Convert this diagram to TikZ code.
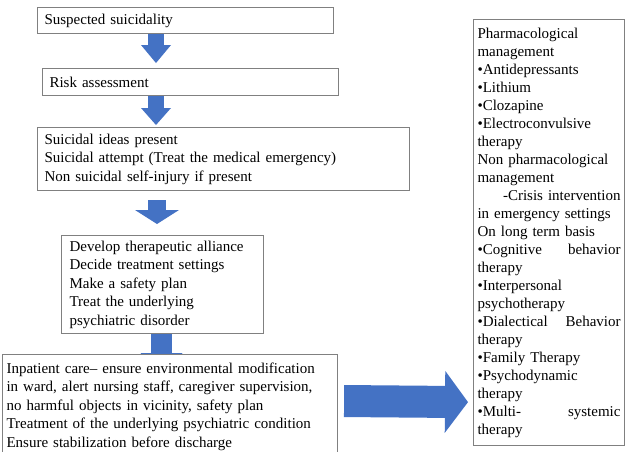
\documentclass[tikz,border=0pt]{standalone}
\usepackage{fontspec}
\setmainfont{Liberation Serif}
\usetikzlibrary{arrows.meta,calc}
\definecolor{boxgray}{HTML}{808080}
\definecolor{arrowblue}{HTML}{4472C4}

\begin{document}
\begin{tikzpicture}[x=1pt,y=-1pt,
  box/.style={draw=boxgray, line width=1.1pt, fill=white, anchor=north west,
    align=left, inner ysep=0pt, font=\fontsize{15}{18.5}\selectfont},
  fat/.style n args={3}{draw=arrowblue, line width=#1,
    -{Triangle[width=#2,length=#3,line width=0pt]}}
]
\useasboundingbox (0,0) rectangle (628,451);

% flow boxes
\node[box, inner xsep=7pt, text width=282pt, minimum height=26pt] (b1) at (37,7)
  {Suspected suicidality};
\node[box, inner xsep=7pt, text width=282pt, minimum height=27pt] (b2) at (42,68)
  {Risk assessment};
\node[box, inner xsep=7pt, text width=358pt, minimum height=63pt] (b3) at (37,127)
  {Suicidal ideas present\\
   Suicidal attempt (Treat the medical emergency)\\
   Non suicidal self-injury if present};
\node[box, inner xsep=8pt, text width=186pt, minimum height=98pt] (b4) at (61,235)
  {Develop therapeutic alliance\\
   Decide treatment settings\\
   Make a safety plan\\
   Treat the underlying\\
   psychiatric disorder};

% management box
\node[box, inner xsep=4pt, text width=143pt, minimum height=426pt,
      font=\fontsize{15}{18}\selectfont] (r) at (473,19)
  {Pharmacological\\
   management\\
   •Antidepressants\\
   •Lithium\\
   •Clozapine\\
   •Electroconvulsive\\
   therapy\\
   Non pharmacological\\
   management\\
   \mbox{}\hfill-Crisis intervention\\
   in emergency settings\\
   On long term basis\\
   •Cognitive\hfill behavior\\
   therapy\\
   •Interpersonal\\
   psychotherapy\\
   •Dialectical\hfill Behavior\\
   therapy\\
   •Family Therapy\\
   •Psychodynamic\\
   therapy\\
   •Multi-\hfill systemic\\
   therapy};

% block arrows down the flow
\draw[fat={16pt}{30pt}{18pt}] ($(b1.south west)+(119,0)$) -- ($(b2.north west)+(114,-5)$);
\draw[fat={16pt}{30pt}{17pt}] ($(b2.south west)+(114,0)$) -- ($(b3.north west)+(119,-2)$);
\draw[fat={18pt}{44pt}{14pt}] ($(b3.south west)+(120,9)$) -- ($(b4.north west)+(96,-11)$);
\coordinate (a4end) at ($(b4.south west)+(100.5,41)$);
\draw[fat={21pt}{42pt}{22pt}] ($(b4.south west)+(100.5,0)$) -- (a4end);

% inpatient box covers the end of the last down arrow
\node[box, inner xsep=4pt, text width=327pt, minimum height=104pt] (b5) at (2,354)
  {Inpatient care– ensure environmental modification\\
   in ward, alert nursing staff, caregiver supervision,\\
   no harmful objects in vicinity, safety plan\\
   Treatment of the underlying psychiatric condition\\
   Ensure stabilization before discharge};

\draw[fat={32pt}{62pt}{23pt}] ($(b5.north east)+(6,47)$) -- ($(r.south west)+(-5,-44)$);
\end{tikzpicture}
\end{document}
